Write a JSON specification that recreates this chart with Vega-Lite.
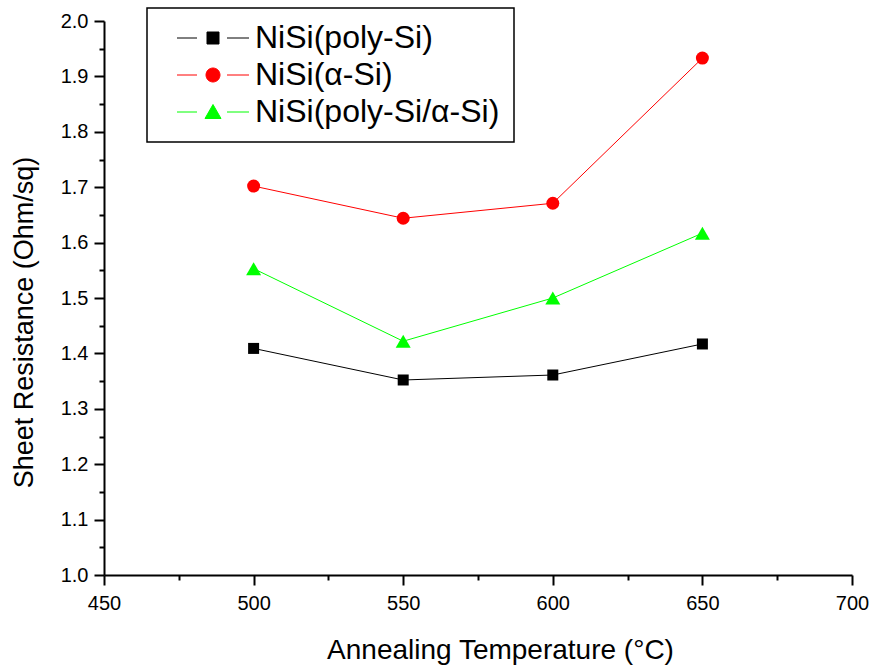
{
  "$schema": "https://vega.github.io/schema/vega-lite/v6.json",
  "width": 748,
  "height": 554,
  "autosize": "none",
  "padding": {"left": 104, "top": 21, "right": 22, "bottom": 96},
  "background": "white",
  "config": {
    "view": {"stroke": null},
    "font": "Liberation Sans",
    "axis": {
      "grid": false,
      "domainColor": "black",
      "domainWidth": 2,
      "tickColor": "black",
      "tickWidth": 2,
      "labelColor": "black",
      "labelFont": "Liberation Sans",
      "labelFontSize": 20,
      "titleFont": "Liberation Sans",
      "titleFontWeight": "normal",
      "titleColor": "black"
    },
    "legend": {
      "orient": "none",
      "legendX": 43,
      "legendY": -13,
      "strokeColor": "black",
      "strokeWidth": 1.5,
      "fillColor": "white",
      "padding": 14,
      "symbolSize": 400,
      "symbolOffset": 36,
      "symbolOpacity": 1,
      "symbolStrokeWidth": 1,
      "labelFont": "Liberation Sans",
      "labelFontSize": 32,
      "labelColor": "black",
      "labelLimit": 0,
      "labelOffset": 26,
      "rowPadding": 5
    }
  },
  "data": {
    "values": [
      {"T": 500, "R": 1.409, "s": "NiSi(poly-Si)"},
      {"T": 550, "R": 1.352, "s": "NiSi(poly-Si)"},
      {"T": 600, "R": 1.361, "s": "NiSi(poly-Si)"},
      {"T": 650, "R": 1.417, "s": "NiSi(poly-Si)"},
      {"T": 500, "R": 1.702, "s": "NiSi(α-Si)"},
      {"T": 550, "R": 1.644, "s": "NiSi(α-Si)"},
      {"T": 600, "R": 1.671, "s": "NiSi(α-Si)"},
      {"T": 650, "R": 1.933, "s": "NiSi(α-Si)"},
      {"T": 500, "R": 1.553, "s": "NiSi(poly-Si/α-Si)"},
      {"T": 550, "R": 1.422, "s": "NiSi(poly-Si/α-Si)"},
      {"T": 600, "R": 1.500, "s": "NiSi(poly-Si/α-Si)"},
      {"T": 650, "R": 1.617, "s": "NiSi(poly-Si/α-Si)"}
    ]
  },
  "encoding": {
    "x": {
      "field": "T",
      "type": "quantitative",
      "scale": {"domain": [450, 700], "nice": false, "zero": false},
      "axis": {
        "title": "Annealing Temperature (°C)",
        "titleFontSize": 28,
        "titleX": 396,
        "titleY": 83,
        "titleAlign": "center",
        "titleBaseline": "alphabetic",
        "values": [450, 475, 500, 525, 550, 575, 600, 625, 650, 675, 700],
        "labelExpr": "datum.value % 50 == 0 ? datum.label : ''",
        "tickSize": {"condition": {"test": "datum.value % 50 == 0", "value": 10}, "value": 5},
        "labelPadding": 8,
        "labelFlush": false
      }
    },
    "y": {
      "field": "R",
      "type": "quantitative",
      "scale": {"domain": [1, 2], "nice": false, "zero": false},
      "axis": {
        "title": "Sheet Resistance (Ohm/sq)",
        "titleFontSize": 27,
        "titleX": -72,
        "titleY": 301,
        "titleAngle": -90,
        "titleAlign": "center",
        "titleBaseline": "alphabetic",
        "values": [1.0, 1.05, 1.1, 1.15, 1.2, 1.25, 1.3, 1.35, 1.4, 1.45, 1.5, 1.55, 1.6, 1.65, 1.7, 1.75, 1.8, 1.85, 1.9, 1.95, 2.0],
        "labelExpr": "abs(datum.value*10 - round(datum.value*10)) < 0.01 ? format(datum.value, '.1f') : ''",
        "tickSize": {"condition": {"test": "abs(datum.value*10 - round(datum.value*10)) < 0.01", "value": 10}, "value": 5},
        "labelPadding": 6,
        "labelFlush": false
      }
    }
  },
  "layer": [
    {
      "mark": {"type": "line", "strokeWidth": 1},
      "encoding": {
        "stroke": {
          "field": "s",
          "type": "nominal",
          "scale": {
            "domain": ["NiSi(poly-Si)", "NiSi(α-Si)", "NiSi(poly-Si/α-Si)"],
            "range": ["#000000", "#ff0000", "#00ff00"]
          },
          "legend": {"title": null}
        }
      }
    },
    {
      "transform": [{"filter": "datum.s === 'NiSi(poly-Si)'"}],
      "mark": {"type": "point", "filled": true, "opacity": 1, "shape": "square", "size": 121, "color": "#000000"},
      "encoding": {}
    },
    {
      "transform": [{"filter": "datum.s === 'NiSi(α-Si)'"}],
      "mark": {"type": "point", "filled": true, "opacity": 1, "shape": "circle", "size": 169, "color": "#ff0000"},
      "encoding": {}
    },
    {
      "transform": [{"filter": "datum.s === 'NiSi(poly-Si/α-Si)'"}],
      "mark": {"type": "point", "filled": true, "opacity": 1, "shape": "triangle-up", "size": 225, "color": "#00ff00"},
      "encoding": {}
    },
    {
      "mark": {"type": "point", "filled": true, "opacity": 0},
      "encoding": {
        "fill": {
          "field": "s",
          "type": "nominal",
          "scale": {
            "domain": ["NiSi(poly-Si)", "NiSi(α-Si)", "NiSi(poly-Si/α-Si)"],
            "range": ["#000000", "#ff0000", "#00ff00"]
          },
          "legend": {"title": null}
        },
        "stroke": {
          "field": "s",
          "type": "nominal",
          "scale": {
            "domain": ["NiSi(poly-Si)", "NiSi(α-Si)", "NiSi(poly-Si/α-Si)"],
            "range": ["#000000", "#ff0000", "#00ff00"]
          },
          "legend": {"title": null}
        },
        "shape": {
          "field": "s",
          "type": "nominal",
          "scale": {
            "domain": ["NiSi(poly-Si)", "NiSi(α-Si)", "NiSi(poly-Si/α-Si)"],
            "range": [
              "M-3.6,0H-1.6M1.4,0H3.6M-0.6,-0.6H0.6V0.6H-0.6Z",
              "M-3.6,0H-1.6M1.4,0H3.6M0.7,0A0.7,0.7,0,1,1,-0.7,0A0.7,0.7,0,1,1,0.7,0Z",
              "M-3.6,0H-1.6M1.4,0H3.6M0,-0.75L0.8,0.65L-0.8,0.65Z"
            ]
          },
          "legend": {"title": null}
        }
      }
    }
  ]
}
